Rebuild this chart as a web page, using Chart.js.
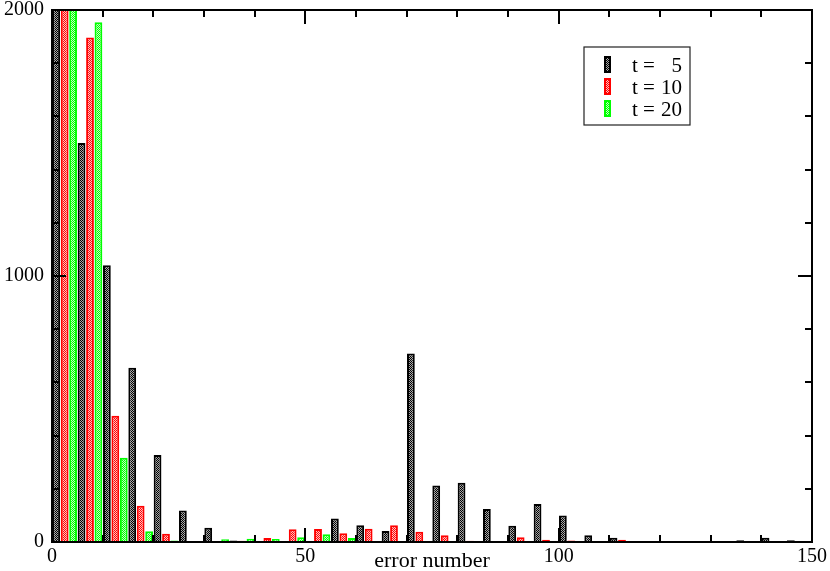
<!DOCTYPE html>
<html><head><meta charset="utf-8">
<script src="https://cdn.jsdelivr.net/npm/chart.js@4/dist/chart.umd.min.js"></script>
<style>html,body{margin:0;padding:0;background:#fff;} #wrap{width:830px;height:571px;}</style>
</head><body><div id="wrap"><canvas id="c" width="830" height="571"></canvas></div>
<script>
// Bin centres (bins of width 5 on the "error number" axis)
const binCenters = [2.5,7.5,12.5,17.5,22.5,27.5,32.5,37.5,42.5,47.5,52.5,57.5,62.5,67.5,72.5,77.5,82.5,87.5,92.5,97.5,102.5,107.5,112.5,117.5,122.5,127.5,132.5,137.5,142.5,147.5];
const seriesLabels = ['t =', 't =', 't ='];
const seriesNumbers = ['5', '10', '20'];
const t5  = [2600,1500,1040,655,327,118,54,6,0,0,0,88,63,41,709,212,223,124,61,143,100,25,16,0,0,0,0,7,16,7];
const t10 = [2400,1897,475,136,31,0,0,5,15,48,49,33,50,63,39,25,5,4,18,8,6,0,8,4,0,0,0,0,0,0];
const t20 = [2300,1954,317,40,6,0,10,12,11,18,29,15,2,2,0,0,0,0,0,0,0,0,0,0,0,0,0,0,0,0];
const xTicks = [0,50,100,150];
const yTicks = [0,1000,2000];
const xTitle = 'error number';

const canvas = document.getElementById('c');
const ctx0 = canvas.getContext('2d');
function checker(color, light){
  const c = document.createElement('canvas'); c.width = 2; c.height = 2;
  const g = c.getContext('2d');
  g.fillStyle = light; g.fillRect(0,0,2,2);
  g.fillStyle = color; g.fillRect(0,0,1,1); g.fillRect(1,1,1,1);
  return ctx0.createPattern(c, 'repeat');
}
const colors = ['#000000', '#ff0000', '#00ff00'];
const lightCells = ['#a8a8a8', '#ffc0c0', '#c0ffc0'];
const patterns = colors.map((c, i) => checker(c, lightCells[i]));
const SERIF = '"Liberation Serif", "DejaVu Serif", serif';

function pts(arr){ return arr.map((v,i)=>({x: binCenters[i], y: v})); }

const framePlugin = {
  id: 'frame',
  afterDatasetsDraw(chart){
    const {ctx, chartArea: a, scales: {x, y}} = chart;
    ctx.save();
    ctx.strokeStyle = '#000';
    ctx.lineWidth = 2;
    ctx.lineCap = 'butt';
    const line = (x1,y1,x2,y2)=>{ ctx.beginPath(); ctx.moveTo(x1,y1); ctx.lineTo(x2,y2); ctx.stroke(); };
    for (let v = x.min; v <= x.max; v += 10) {
      const px = Math.round(x.getPixelForValue(v));
      const L = (v % 50 === 0) ? 14 : 7;
      line(px, a.bottom, px, a.bottom - L);
      line(px, a.top, px, a.top + L);
    }
    for (let v = y.min; v <= y.max; v += 200) {
      const py = Math.round(y.getPixelForValue(v));
      const L = (v % 1000 === 0) ? 14 : 7;
      line(a.left, py, a.left + L, py);
      line(a.right, py, a.right - L, py);
    }
    ctx.strokeRect(a.left, a.top, a.right - a.left, a.bottom - a.top);

    // legend
    const lx = a.left + 532, ly = a.top + 37;
    ctx.lineWidth = 1.2;
    ctx.strokeStyle = '#222';
    ctx.strokeRect(lx, ly, 106, 78);
    ctx.font = '21px ' + SERIF;
    ctx.textBaseline = 'alphabetic';
    chart.data.datasets.forEach((ds, i) => {
      const sy = ly + 9 + i * 22;
      ctx.fillStyle = ds.backgroundColor;
      ctx.fillRect(lx + 20, sy, 7, 17);
      ctx.strokeStyle = ds.borderColor;
      ctx.lineWidth = 2;
      ctx.strokeRect(lx + 21, sy + 1, 5, 15);
      ctx.fillStyle = '#000';
      ctx.textAlign = 'left';
      ctx.fillText(seriesLabels[i], lx + 48, sy + 16);
      ctx.textAlign = 'right';
      ctx.fillText(seriesNumbers[i], lx + 98, sy + 16);
    });

    // x title
    ctx.font = '22px ' + SERIF;
    ctx.textAlign = 'center';
    ctx.fillStyle = '#000';
    ctx.fillText(xTitle, (a.left + a.right) / 2, a.bottom + 25);
    ctx.restore();
  }
};

new Chart(canvas, {
  type: 'bar',
  data: {
    datasets: [
      {label: 't = 5',  data: pts(t5),  backgroundColor: patterns[0], borderColor: colors[0], borderWidth: 2},
      {label: 't = 10', data: pts(t10), backgroundColor: patterns[1], borderColor: colors[1], borderWidth: 2},
      {label: 't = 20', data: pts(t20), backgroundColor: patterns[2], borderColor: colors[2], borderWidth: 2}
    ]
  },
  options: {
    responsive: false,
    animation: false,
    devicePixelRatio: 1,
    categoryPercentage: 1.0,
    barPercentage: 0.92,
    layout: {padding: {top: 10, right: 18, left: 0, bottom: 0}},
    plugins: {legend: {display: false}, tooltip: {enabled: false}},
    scales: {
      x: {
        type: 'linear', min: 0, max: 150, offset: false,
        grid: {display: false, drawTicks: false}, border: {display: false},
        afterBuildTicks: s => { s.ticks = xTicks.map(v => ({value: v})); },
        afterFit: s => { s.height = 29; s.paddingLeft = 0; s.paddingRight = 0; },
        ticks: {padding: 3, color: '#000', font: {family: SERIF, size: 20}, maxRotation: 0, autoSkip: false,
                callback: v => String(v)}
      },
      y: {
        min: 0, max: 2000,
        grid: {display: false, drawTicks: false}, border: {display: false},
        afterBuildTicks: s => { s.ticks = yTicks.map(v => ({value: v})); },
        afterFit: s => { s.width = 52; s.paddingTop = 0; s.paddingBottom = 0; },
        ticks: {padding: 8, color: '#000', font: {family: SERIF, size: 20}, callback: v => String(v)}
      }
    }
  },
  plugins: [framePlugin]
});
</script></body></html>
